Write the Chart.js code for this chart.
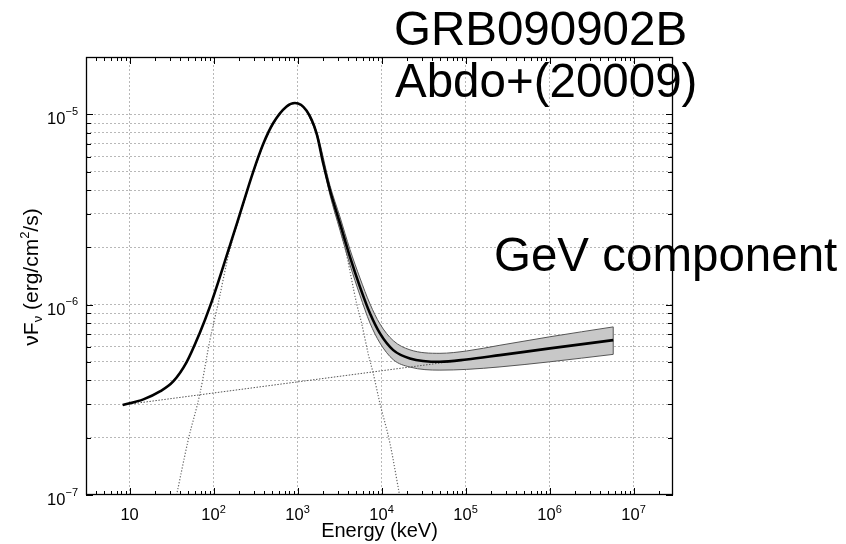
<!DOCTYPE html>
<html>
<head>
<meta charset="utf-8">
<script src="https://cdn.jsdelivr.net/npm/chart.js@4"></script>
<style>
  html, body { margin: 0; padding: 0; background: #fff; }
</style>
</head>
<body>
<canvas id="c" width="846" height="544"></canvas>
<script>
// total model, keV vs erg/cm2/s
const energy = [8.28, 14.6, 23.0, 33.1, 47.8, 67.6, 92.3, 154, 206, 297, 391, 514, 741, 931, 1283, 1687,
                2023, 2432, 3199, 4207, 5534, 7278, 9572, 13780, 21770, 49550, 103000, 257000, 1010000, 5730000];
const nuFnu = [2.97e-7, 3.18e-7, 3.5e-7, 3.95e-7, 4.99e-7, 7.0e-7, 1.0e-6, 2.0e-6, 3.0e-6, 5.0e-6, 7.0e-6,
               9.0e-6, 1.10e-5, 1.146e-5, 1.043e-5, 7.92e-6, 5.51e-6, 3.99e-6, 2.67e-6, 1.78e-6, 1.24e-6,
               9.0e-7, 7.06e-7, 5.77e-7, 5.22e-7, 5.01e-7, 5.15e-7, 5.43e-7, 5.89e-7, 6.51e-7];

// Band component (dotted)
const bandE = [36.3, 50.0, 68.9, 90.6, 112.7, 154, 206, 297, 391, 514, 741, 931, 1283, 1687, 2023, 2661,
               3664, 5058, 5799, 6950, 7962, 9572, 12590, 16250];
const bandF = [1e-7, 1.95e-7, 3.42e-7, 6.52e-7, 1.0e-6, 1.9e-6, 2.93e-6, 4.93e-6, 6.9e-6, 8.93e-6, 1.094e-5,
               1.141e-5, 1.038e-5, 7.85e-6, 5.45e-6, 3.40e-6, 2.0e-6, 1.01e-6, 7.96e-7, 5.5e-7, 4.35e-7,
               3.03e-7, 1.87e-7, 1.02e-7];

// power-law (GeV) component (dotted)
const plE = [8.28, 5730000];
const plF = [2.97e-7, 6.51e-7];

// uncertainty butterfly
const bfE = [1283, 1687, 2432, 3199, 4207, 5534, 7278, 9572, 13780, 21770, 49550, 103000, 257000, 1010000, 5730000];
const bfHi = [1.043e-5, 8.1e-6, 4.23e-6, 2.89e-6, 1.95e-6, 1.38e-6, 1.01e-6, 7.92e-7, 6.47e-7, 5.79e-7,
              5.55e-7, 5.71e-7, 6.12e-7, 6.78e-7, 7.64e-7];
const bfLo = [1.043e-5, 7.74e-6, 3.77e-6, 2.46e-6, 1.62e-6, 1.12e-6, 8.01e-7, 6.29e-7, 5.14e-7, 4.70e-7,
              4.53e-7, 4.57e-7, 4.71e-7, 5.01e-7, 5.48e-7];

// axes
const xMin = 3.03, xMax = 2.95e7;
const yMin = 1e-7, yMax = 2e-5;
const xDecades = [0, 1, 2, 3, 4, 5, 6, 7];
const yDecades = [-7, -6, -5];
const xLabelExp = [1, 2, 3, 4, 5, 6, 7];
const yLabelExp = [-7, -6, -5];
const mantissas = [1, 2, 3, 4, 5, 6, 7, 8, 9];

const FONT = '"Liberation Sans", Arial, Helvetica, sans-serif';
const GRID = '#b8b8b8';

function pts(xs, ys) { return xs.map((x, i) => ({ x: x, y: ys[i] })); }

function logTicks(decades, lo, hi) {
  const out = [];
  decades.forEach(e => mantissas.forEach(m => {
    const v = m * Math.pow(10, e);
    if (v >= lo * 0.9999 && v <= hi * 1.0001) out.push({ value: v });
  }));
  return out;
}

function isDecade(v) {
  const l = Math.log10(v);
  return Math.abs(l - Math.round(l)) < 1e-6;
}

// frame, inside ticks, tick labels, titles
const frame = {
  id: 'frame',
  afterDraw(chart) {
    const { ctx, chartArea: a, scales: { x, y } } = chart;
    ctx.save();
    ctx.strokeStyle = '#000';
    ctx.lineWidth = 1;
    ctx.beginPath();
    x.ticks.forEach(t => {
      const px = Math.round(x.getPixelForValue(t.value)) + 0.5;
      const len = isDecade(t.value) ? 7 : 4;
      ctx.moveTo(px, a.bottom); ctx.lineTo(px, a.bottom - len);
      ctx.moveTo(px, a.top); ctx.lineTo(px, a.top + len);
    });
    y.ticks.forEach(t => {
      const py = Math.round(y.getPixelForValue(t.value)) + 0.5;
      const len = isDecade(t.value) ? 7 : 5;
      ctx.moveTo(a.left, py); ctx.lineTo(a.left + len, py);
      ctx.moveTo(a.right, py); ctx.lineTo(a.right - len, py);
    });
    ctx.stroke();
    ctx.lineWidth = 1.3;
    ctx.strokeRect(Math.round(a.left) + 0.5, Math.round(a.top) + 0.5,
                   Math.round(a.width) - 1, Math.round(a.height) - 1);

    // tick labels
    ctx.fillStyle = '#000';
    ctx.textBaseline = 'alphabetic';
    const big = '16.5px ' + FONT, small = '11px ' + FONT;
    xLabelExp.forEach(e => {
      const px = x.getPixelForValue(Math.pow(10, e));
      ctx.font = big;
      const w1 = ctx.measureText('10').width;
      const sup = e === 1 ? '' : String(e);
      ctx.font = small;
      const w2 = sup ? ctx.measureText(sup).width : 0;
      const x0 = px - (w1 + w2) / 2;
      ctx.font = big; ctx.textAlign = 'left';
      ctx.fillText('10', x0, a.bottom + 24.5);
      if (sup) { ctx.font = small; ctx.fillText(sup, x0 + w1, a.bottom + 18); }
    });
    yLabelExp.forEach(e => {
      const py = y.getPixelForValue(Math.pow(10, e));
      const sup = '\u2212' + Math.abs(e);
      ctx.font = small;
      const w2 = ctx.measureText(sup).width;
      const xr = a.left - 8;
      ctx.textAlign = 'left';
      ctx.fillText(sup, xr - w2, py + 0.5);
      ctx.font = big; ctx.textAlign = 'right';
      ctx.fillText('10', xr - w2, py + 10);
    });

    // axis titles
    ctx.font = '20px ' + FONT;
    ctx.textAlign = 'center';
    ctx.fillText('Energy (keV)', (a.left + a.right) / 2, a.bottom + 42);

    const parts = [
      ['\u03BDF', 21, 0], ['\u03BD', 13, 4], [' (erg/cm', 21, 0], ['2', 13, -9], ['/s)', 21, 0]
    ];
    let total = 0;
    parts.forEach(p => { ctx.font = p[1] + 'px ' + FONT; p.push(ctx.measureText(p[0]).width); total += p[3]; });
    ctx.save();
    ctx.translate(38, (a.top + a.bottom) / 2 + 1);
    ctx.rotate(-Math.PI / 2);
    ctx.textAlign = 'left';
    let cx = -total / 2;
    parts.forEach(p => {
      ctx.font = p[1] + 'px ' + FONT;
      ctx.fillText(p[0], cx, p[2]);
      cx += p[3];
    });
    ctx.restore();

    // annotations
    ctx.font = '47.5px ' + FONT;
    ctx.textAlign = 'left';
    ctx.fillText('GRB090902B', 394, 45);
    ctx.fillText('Abdo+(20009)', 395, 97);
    ctx.fillText('GeV component', 494, 271);
    ctx.restore();
  }
};

new Chart(document.getElementById('c'), {
  type: 'line',
  data: {
    datasets: [
      { data: pts(bfE, bfHi), borderColor: '#555', borderWidth: 1, backgroundColor: '#c8c8c8',
        fill: '+1', cubicInterpolationMode: 'monotone', order: 6 },
      { data: pts(bfE, bfLo), borderColor: '#555', borderWidth: 1, fill: false,
        cubicInterpolationMode: 'monotone', order: 5 },
      { data: [{ x: bfE[bfE.length - 1], y: bfLo[bfLo.length - 1] }, { x: bfE[bfE.length - 1], y: bfHi[bfHi.length - 1] }],
        borderColor: '#555', borderWidth: 1, fill: false, order: 4 },
      { data: pts(bandE, bandF), borderColor: '#666', borderWidth: 1.2, borderDash: [1.2, 1.8],
        fill: false, cubicInterpolationMode: 'monotone', order: 3 },
      { data: pts(plE, plF), borderColor: '#555', borderWidth: 1, borderDash: [1.5, 1.5],
        fill: false, order: 2 },
      { data: pts(energy, nuFnu), borderColor: '#000', borderWidth: 2.6, fill: false,
        cubicInterpolationMode: 'monotone', order: 1 }
    ]
  },
  options: {
    responsive: false,
    animation: false,
    layout: { padding: { left: 86, top: 57, right: 173, bottom: 49 } },
    elements: { point: { radius: 0 } },
    plugins: { legend: { display: false }, tooltip: { enabled: false } },
    scales: {
      x: {
        type: 'logarithmic', min: xMin, max: xMax,
        afterBuildTicks: s => { s.ticks = logTicks(xDecades, xMin, xMax); },
        ticks: { display: false },
        grid: { drawTicks: false, lineWidth: 1,
                color: c => (c.tick && isDecade(c.tick.value)) ? GRID : 'rgba(0,0,0,0)' },
        border: { display: false, dash: [2, 2] }
      },
      y: {
        type: 'logarithmic', min: yMin, max: yMax,
        afterBuildTicks: s => { s.ticks = logTicks(yDecades, yMin, yMax); },
        ticks: { display: false },
        grid: { drawTicks: false, lineWidth: 1,
                color: c => (c.tick && c.tick.value > yMin * 1.001 && c.tick.value < yMax * 0.999) ? GRID : 'rgba(0,0,0,0)' },
        border: { display: false, dash: [2, 2] }
      }
    }
  },
  plugins: [frame]
});
</script>
</body>
</html>
